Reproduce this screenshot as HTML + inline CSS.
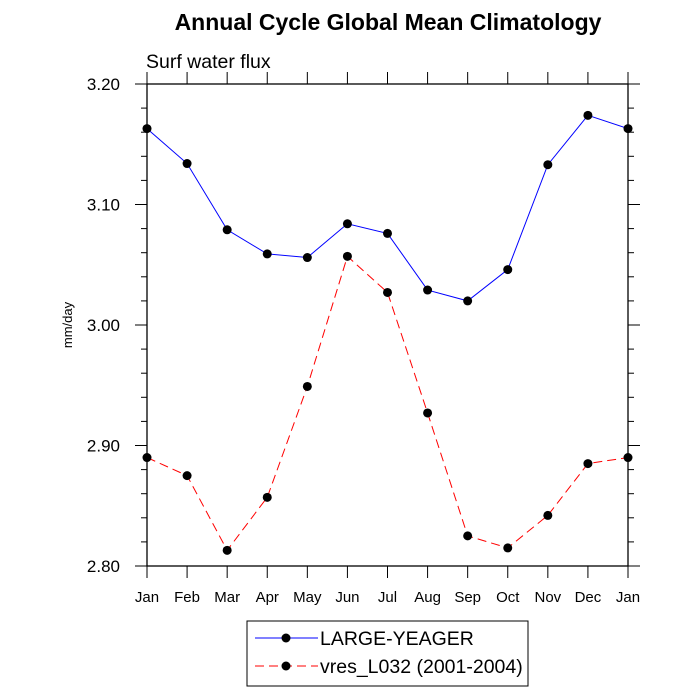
<!DOCTYPE html>
<html><head><meta charset="utf-8"><style>
html,body{margin:0;padding:0;background:#fff;}
svg{display:block;font-family:"Liberation Sans",sans-serif;}
</style></head><body>
<svg id="c" width="700" height="700" xmlns="http://www.w3.org/2000/svg">
<text x="388" y="30" text-anchor="middle" font-size="23" font-weight="bold">Annual Cycle Global Mean Climatology</text>
<text x="146" y="68" font-size="19.5">Surf water flux</text>
<text x="0" y="0" font-size="13" text-anchor="middle" transform="translate(72,325) rotate(-90)">mm/day</text>
<g id="axes"></g>
<g id="series"></g>
<rect x="247" y="621" width="281" height="65" fill="none" stroke="#000" stroke-width="1"/>
<g>
<line x1="255" y1="638" x2="318" y2="638" stroke="#0000ff" stroke-width="1"/>
<circle cx="286" cy="638" r="4.5" fill="#000"/>
<text x="320" y="645" font-size="19.5">LARGE-YEAGER</text>
</g>
<g>
<line x1="255" y1="666" x2="318" y2="666" stroke="#ff0000" stroke-width="1" stroke-dasharray="9,5"/>
<circle cx="286" cy="666" r="4.5" fill="#000"/>
<text x="320" y="673" font-size="19.5">vres_L032 (2001-2004)</text>
</g>
</svg>
<script>
const months=["Jan","Feb","Mar","Apr","May","Jun","Jul","Aug","Sep","Oct","Nov","Dec","Jan"];
const largeYeager=[3.163,3.134,3.079,3.059,3.056,3.084,3.076,3.029,3.020,3.046,3.133,3.174,3.163];
const vres=[2.890,2.875,2.813,2.857,2.949,3.057,3.027,2.927,2.825,2.815,2.842,2.885,2.890];
const yTicks=["2.80","2.90","3.00","3.10","3.20"];
const NS="http://www.w3.org/2000/svg";
const L=147,R=628,T=84,B=566,yMin=2.8,yMax=3.2;
function xs(i){return L+(R-L)*i/(months.length-1);}
function ys(v){return B-(v-yMin)/(yMax-yMin)*(B-T);}
function mk(tag,attrs,parent){const e=document.createElementNS(NS,tag);for(const k in attrs)e.setAttribute(k,attrs[k]);parent.appendChild(e);return e;}
const ax=document.getElementById('axes');
const frame=mk('rect',{x:L,y:T,width:R-L,height:B-T,fill:'none',stroke:'#000','stroke-width':1.3},ax);


months.forEach((m,i)=>{
 const x=xs(i);
 mk('line',{x1:x,y1:B,x2:x,y2:B+12,stroke:'#000','stroke-width':1},ax);
 mk('line',{x1:x,y1:T,x2:x,y2:T-12,stroke:'#000','stroke-width':1},ax);
 const t=mk('text',{x:x,y:B+36,'text-anchor':'middle','font-size':15},ax);
 t.textContent=m;
 
 
});
for(let k=0;k<=20;k++){
 const v=yMin+k*0.02,y=ys(v),major=k%5===0,len=major?12:6;
 mk('line',{x1:L,y1:y,x2:L-len,y2:y,stroke:'#000','stroke-width':1},ax);
 mk('line',{x1:R,y1:y,x2:R+len,y2:y,stroke:'#000','stroke-width':1},ax);
}
yTicks.forEach(s=>{
 const t=mk('text',{x:120,y:ys(parseFloat(s))+6,'text-anchor':'end','font-size':17},ax);
 t.textContent=s;
 
 
});
const sg=document.getElementById('series');
function series(vals,color,dash,name){
 const g=mk('g',{},sg);
 
 
 const pts=vals.map((v,i)=>xs(i)+','+ys(v)).join(' ');
 const a={points:pts,fill:'none',stroke:color,'stroke-width':1};
 if(dash)a['stroke-dasharray']=dash;
 mk('polyline',a,g);
 vals.forEach((v,i)=>{
  const c=mk('circle',{cx:xs(i),cy:ys(v),r:4.5,fill:'#000'},g);
  
  
 });
}
series(largeYeager,'#0000ff',null,'series-large-yeager');
series(vres,'#ff0000','9,5','series-vres-l032');
</script>
</body></html>
